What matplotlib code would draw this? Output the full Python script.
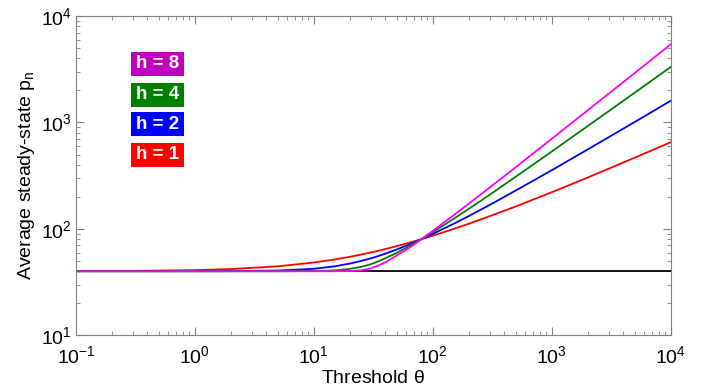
import matplotlib
matplotlib.use("Agg")
import matplotlib.pyplot as plt
from matplotlib.patches import Rectangle

plt.rcParams['font.family'] = ['Liberation Sans', 'DejaVu Sans']
plt.rcParams['mathtext.default'] = 'regular'

# values (theta, average steady-state p_n)
theta = [0.1, 0.3, 1, 2, 5, 10, 15, 20, 25, 30, 35, 40, 50, 60, 70, 80,
         100, 150, 200, 300, 500, 1000, 2000, 5000, 10000]
p_h1 = [40.1, 40.3, 41.0, 41.9, 44.5, 48.3, 51.6, 54.6, 57.4, 60.0, 62.4, 64.7,
        69.0, 72.9, 76.5, 80.0, 86.3, 100.0, 111.7, 131.4, 162.8, 221, 303.5, 467.7, 652.8]
p_h2 = [40.0, 40.0, 40.03, 40.1, 40.6, 42.2, 44.5, 47.2, 50.0, 52.8, 55.7, 58.6,
        64.2, 69.7, 75.0, 80.0, 89.7, 111.8, 131.8, 167.6, 230, 356, 557, 1013, 1601]
p_h4 = [40.0, 40.0, 40.0, 40.0, 40.0, 40.15, 40.7, 42.1, 44.0, 46.5, 49.6, 53.0,
        59.7, 66.6, 73.3, 80.0, 93.2, 124.6, 153.9, 209, 310, 533.6, 923, 1911, 3324]
p_h8 = [40.0, 40.0, 40.0, 40.0, 40.0, 40.0, 40.0, 40.15, 40.85, 42.5, 45.4, 48.6,
        56.5, 63.8, 71.6, 80.0, 95.9, 134.7, 172, 244.5, 381, 703, 1300, 2928, 5420]
baseline = [40.0] * len(theta)

h_labels = ['h = 8', 'h = 4', 'h = 2', 'h = 1']
box_colors = ['#C000C0', '#008000', '#0000FF', '#FF0000']

fig = plt.figure(figsize=(7.09, 3.92), dpi=100)
ax = fig.add_axes([0.107, 0.1446, 0.839, 0.8144])

ax.plot(theta, baseline, color='black', lw=1.3)
ax.plot(theta, p_h1, color='#FF0000', lw=1.3)
ax.plot(theta, p_h2, color='#0000FF', lw=1.3)
ax.plot(theta, p_h4, color='#008000', lw=1.3)
ax.plot(theta, p_h8, color='#FF00FF', lw=1.3)

ax.set_xscale('log')
ax.set_yscale('log')
ax.set_xlim(0.1, 1e4)
ax.set_ylim(10, 1e4)

for s in ax.spines.values():
    s.set_color('#808080')
ax.tick_params(which='both', direction='in', top=True, right=True,
               color='#808080', labelsize=14, labelcolor='black')
ax.tick_params(which='major', length=6)
ax.tick_params(which='minor', length=3)
ax.tick_params(axis='x', which='major', pad=7)
ax.tick_params(axis='y', which='major', pad=3)

ax.set_xlabel(r'Threshold $\theta$', fontsize=14, labelpad=2)
ax.set_ylabel(r'Average steady-state p$_n$', fontsize=14, labelpad=3)

# legend boxes
yc = [0.8514, 0.7542, 0.6614, 0.5652]
for lab, col, y in zip(h_labels, box_colors, yc):
    ax.add_patch(Rectangle((0.0924, y - 0.0376), 0.0886, 0.0752,
                           transform=ax.transAxes, facecolor=col,
                           edgecolor='none', zorder=5))
    ax.text(0.1367, y, lab, transform=ax.transAxes, color='white',
            fontsize=13.5, fontweight='bold', ha='center', va='center', zorder=6)

fig.savefig('out.png', dpi=100)
